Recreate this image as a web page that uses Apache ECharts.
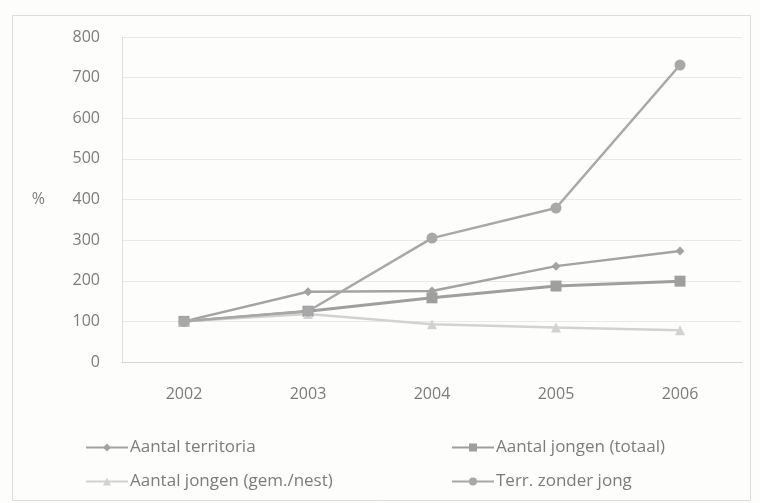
<!DOCTYPE html>
<html>
<head>
<meta charset="utf-8">
<script src="https://cdn.jsdelivr.net/npm/echarts@6/dist/echarts.min.js"></script>
<style>
  html, body { margin: 0; padding: 0; background: #fdfdfb; }
  #chart { width: 760px; height: 503px; }
</style>
</head>
<body>
<div id="chart"></div>
<script>
// Years on the category axis
const years = ['2002', '2003', '2004', '2005', '2006'];

// Index values (2002 = 100 %)
const territoria = [100, 173, 175, 236, 273];
const jongenTotaal = [100, 125, 158, 187, 199];
const jongenGemNest = [100, 118, 93, 85, 78];
const zonderJong = [100, 125, 305, 379, 731];

// Value axis ticks
const yMin = 0;
const yMax = 800;
const yStep = 100;

const textColor = '#7c7c7c';
const fontFamily = '"Open Sans", Lato, sans-serif';
const axisFontSize = 16;
const legendFontSize = 17;

const chart = echarts.init(document.getElementById('chart'));

function lineSeries(name, data, color, width, symbol, size) {
  return {
    name: name,
    type: 'line',
    data: data,
    symbol: symbol,
    symbolSize: size,
    lineStyle: { color: color, width: width },
    itemStyle: { color: color },
    emphasis: { disabled: true },
    z: 3
  };
}

const legendCommon = {
  orient: 'vertical',
  itemWidth: 42,
  itemHeight: 10,
  itemGap: 17,
  textStyle: { color: textColor, fontSize: legendFontSize, fontFamily: fontFamily, padding: [0, 0, 0, -3] }
};

chart.setOption({
  backgroundColor: '#fdfdfb',
  animation: false,
  graphic: [{
    type: 'rect',
    shape: { x: 12.5, y: 15.5, width: 738, height: 485 },
    style: { fill: 'none', stroke: '#dcdcdc', lineWidth: 1 },
    silent: true
  }],
  grid: { left: 122, right: 18, top: 37, bottom: 141 },
  legend: [
    Object.assign({}, legendCommon, {
      left: 80, top: 434,
      data: ['Aantal territoria', 'Aantal jongen (gem./nest)']
    }),
    Object.assign({}, legendCommon, {
      left: 446, top: 434,
      data: ['Aantal jongen (totaal)', 'Terr. zonder jong']
    })
  ],
  xAxis: {
    type: 'category',
    data: years,
    boundaryGap: true,
    axisLine: { lineStyle: { color: '#d6d6d6', width: 1 } },
    axisTick: { show: false },
    axisLabel: { color: textColor, fontSize: axisFontSize, fontFamily: fontFamily, margin: 24 }
  },
  yAxis: {
    type: 'value',
    min: yMin,
    max: yMax,
    interval: yStep,
    name: '%',
    nameLocation: 'middle',
    nameRotate: 0,
    nameGap: 77,
    nameTextStyle: { color: textColor, fontSize: axisFontSize, fontFamily: fontFamily },
    axisLine: { show: true, lineStyle: { color: '#dedede' } },
    axisTick: { show: false },
    splitLine: { lineStyle: { color: '#e9e9e6', width: 1 } },
    axisLabel: { color: textColor, fontSize: axisFontSize, fontFamily: fontFamily, margin: 22 }
  },
  series: [
    lineSeries('Aantal territoria', territoria, '#a3a3a3', 2.5, 'diamond', 9),
    lineSeries('Aantal jongen (totaal)', jongenTotaal, '#9f9f9f', 3, 'rect', 11),
    lineSeries('Aantal jongen (gem./nest)', jongenGemNest, '#d2d2d2', 2.5, 'triangle', 10),
    lineSeries('Terr. zonder jong', zonderJong, '#a8a8a8', 2.5, 'circle', 11)
  ]
});
</script>
</body>
</html>
